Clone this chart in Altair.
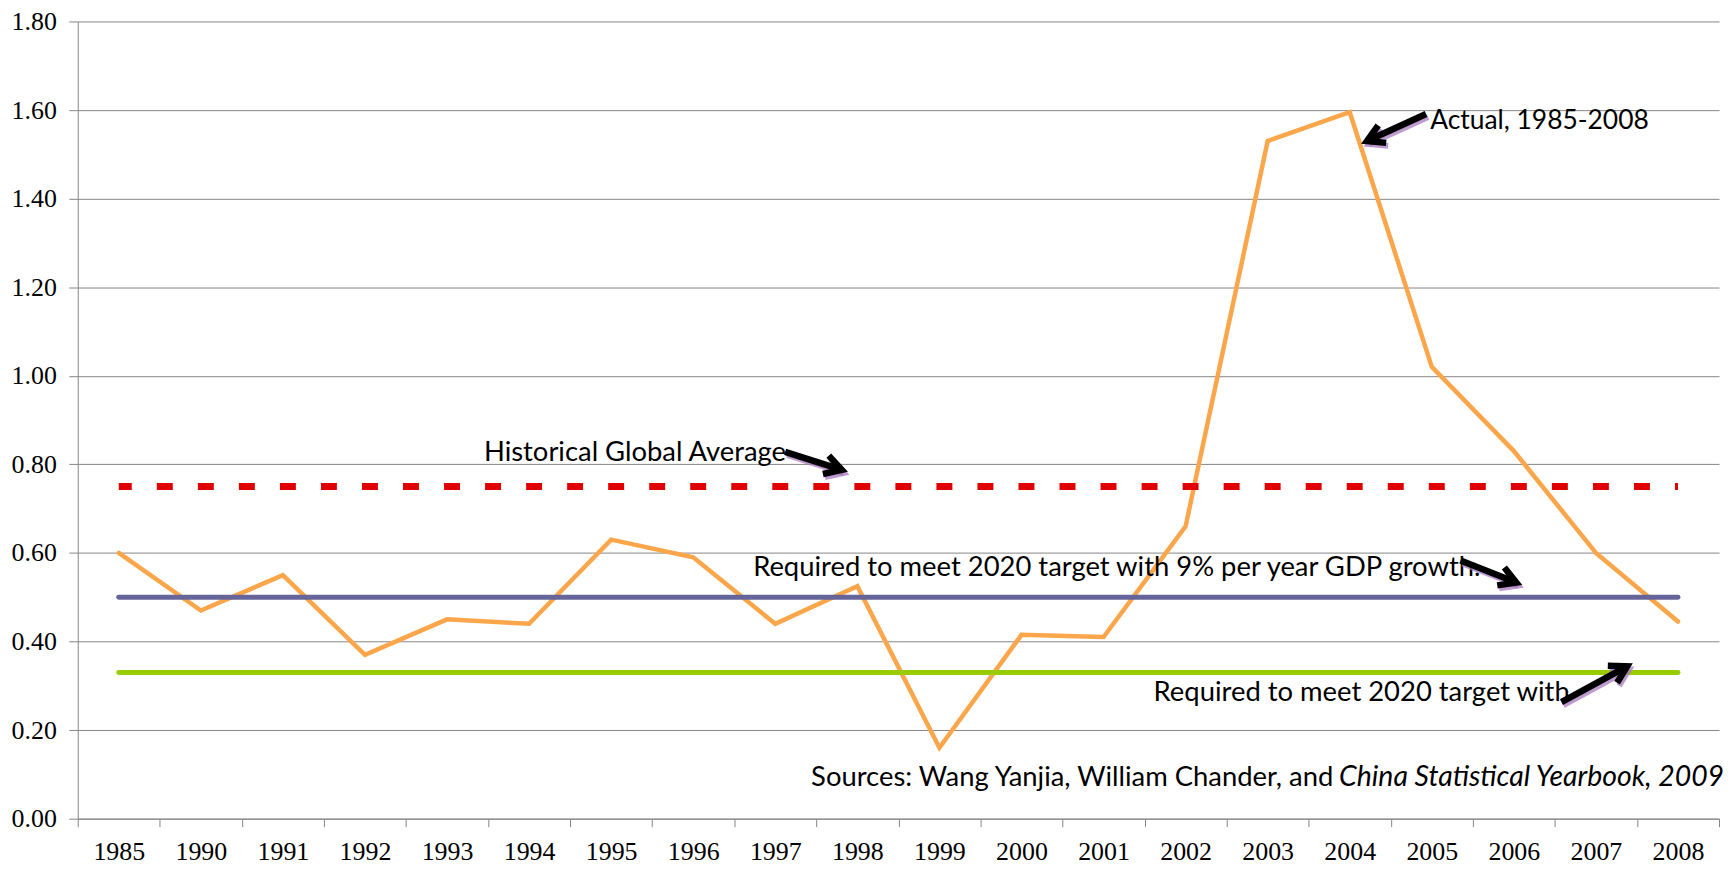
import math
import json
import altair as alt
import pandas as pd

# ---------------- data ----------------
years = ["1985", "1990", "1991", "1992", "1993", "1994", "1995", "1996", "1997", "1998",
         "1999", "2000", "2001", "2002", "2003", "2004", "2005", "2006", "2007", "2008"]
actual = [0.60, 0.47, 0.55, 0.37, 0.45, 0.44, 0.63, 0.59, 0.44, 0.525,
          0.16, 0.415, 0.41, 0.66, 1.53, 1.595, 1.02, 0.83, 0.60, 0.445]
historical_global_average = 0.75
required_9pct_gdp = 0.50
required_other = 0.33
y_ticks = [0.0, 0.2, 0.4, 0.6, 0.8, 1.0, 1.2, 1.4, 1.6, 1.8]

# ---------------- layout ----------------
W, H = 1647, 800
N = len(years)
YMAX = 1.8
BAND = W / N
PX_PER_VAL = H / YMAX
GRID = "#868686"
LABEL_FONT = "Liberation Serif"
ANNO_FONT = "Lato"

series = pd.DataFrame({
    "idx": list(range(N)),
    "year": years,
    "actual": actual,
    "hist": [historical_global_average] * N,
    "req9": [required_9pct_gdp] * N,
    "req_other": [required_other] * N,
})

x_scale = alt.Scale(domain=[-0.5, N - 0.5], nice=False, zero=False)
y_scale = alt.Scale(domain=[0, YMAX], nice=False, zero=True)

label_expr = f"datum.value < {N - 1} ? {json.dumps(years)}[round(datum.value + 0.5)] : ''"
x_axis = alt.Axis(
    values=[i - 0.5 for i in range(N + 1)], labelExpr=label_expr, labelOffset=BAND / 2,
    labelFlush=False, labelOverlap=False, labelBound=False, grid=False,
    tickSize=8, tickColor=GRID, domainColor=GRID, tickWidth=1, domainWidth=1,
    labelFont=LABEL_FONT, labelFontSize=26, labelColor="black", labelPadding=12, title=None,
)
y_axis = alt.Axis(
    values=y_ticks, format=".2f", grid=True, gridColor=GRID, gridWidth=1, gridOpacity=1,
    domainColor=GRID, tickColor=GRID, tickSize=9, tickWidth=1, domainWidth=1,
    labelFont=LABEL_FONT, labelFontSize=26, labelColor="black", labelPadding=12.5,
    labelFlush=False, labelOverlap=False, title=None,
)


def X(f):
    return alt.X(f, type="quantitative", scale=x_scale, axis=x_axis)


def Y(f):
    return alt.Y(f, type="quantitative", scale=y_scale, axis=y_axis)


base = alt.Chart(series)
orange = base.mark_line(color="#FBA64B", strokeWidth=4.5, strokeJoin="miter", strokeCap="round").encode(
    x=X("idx"), y=Y("actual"))
purple = base.mark_line(color="#65659A", strokeWidth=5, strokeCap="round").encode(
    x=X("idx"), y=Y("req9"))
green = base.mark_line(color="#99CC00", strokeWidth=5, strokeCap="round").encode(
    x=X("idx"), y=Y("req_other"))
red = base.mark_line(color="#E00000", strokeWidth=7, strokeCap="butt",
                     strokeDash=[16, BAND / 2 - 16], strokeDashOffset=3).encode(
    x=X("idx"), y=Y("hist"))

# ---------------- annotations (placed in data coordinates) ----------------
texts = [
    dict(text="Actual, 1985-2008", x=15.98, y=1.557, size=26.5, align="left", style="normal"),
    dict(text="Historical Global Average", x=4.45, y=0.808, size=27.5, align="left", style="normal"),
    dict(text="Required to meet 2020 target with 9% per year GDP growth.", x=7.73, y=0.547,
         size=27.5, align="left", style="normal"),
    dict(text="Required to meet 2020 target with", x=12.61, y=0.2655, size=27.5, align="left",
         style="normal"),
    dict(text="Sources: Wang Yanjia, William Chander, and", x=14.80, y=0.074, size=27.5,
         align="right", style="normal"),
    dict(text="China Statistical Yearbook, 2009", x=14.87, y=0.074, size=28.5, align="left",
         style="italic"),
]
text_layers = []
for t in texts:
    text_layers.append(
        alt.Chart(pd.DataFrame([{"x": t["x"], "y": t["y"], "label": t["text"]}]))
        .mark_text(align=t["align"], baseline="alphabetic", font=ANNO_FONT, fontSize=t["size"],
                   fontStyle=t["style"], color="black")
        .encode(x=X("x"), y=Y("y"), text="label:N")
    )

arrows = [
    dict(x=15.93, y=1.591, x2=15.21, y2=1.530),   # Actual
    dict(x=8.12, y=0.828, x2=8.81, y2=0.7875),    # Historical global average
    dict(x=16.35, y=0.583, x2=17.03, y2=0.533),   # 9% GDP growth
    dict(x=17.58, y=0.263, x2=18.38, y2=0.344),   # other target
]
for a in arrows:
    dxp = (a["x2"] - a["x"]) * BAND
    dyp = -(a["y2"] - a["y"]) * PX_PER_VAL
    a["angle"] = math.degrees(math.atan2(dxp, -dyp)) % 360
arrow_df = pd.DataFrame(arrows)

CHEVRON = "M -0.5 0.866 L 0 0 L 0.5 0.866"
HEAD_SIZE = 1500
SX, SY = 2 / BAND, 3 / PX_PER_VAL
shadow_base = alt.Chart(arrow_df).transform_calculate(
    sx=f"datum.x + {SX}", sy=f"datum.y - {SY}", sx2=f"datum.x2 + {SX}", sy2=f"datum.y2 - {SY}")
SHADOW = "#A878C0"
shadow_shaft = shadow_base.mark_rule(color=SHADOW, strokeWidth=6, opacity=0.75).encode(
    x=X("sx"), y=Y("sy"), x2="sx2:Q", y2="sy2:Q")
shadow_head = shadow_base.mark_point(shape=CHEVRON, filled=False, strokeWidth=6, size=HEAD_SIZE,
                                     color=SHADOW, opacity=0.75, strokeJoin="miter").encode(
    x=X("sx2"), y=Y("sy2"), angle=alt.Angle("angle:Q", scale=None))

arrow_base = alt.Chart(arrow_df)
shaft = arrow_base.mark_rule(color="black", strokeWidth=6.5).encode(
    x=X("x"), y=Y("y"), x2="x2:Q", y2="y2:Q")
head = arrow_base.mark_point(shape=CHEVRON, filled=False, strokeWidth=6.5, size=HEAD_SIZE,
                             color="black", opacity=1, strokeJoin="miter").encode(
    x=X("x2"), y=Y("y2"), angle=alt.Angle("angle:Q", scale=None))

chart = alt.layer(
    orange, purple, green, red, *text_layers, shadow_shaft, shadow_head, shaft, head
).properties(
    width=W, height=H,
    padding={"left": 70, "top": 12, "right": 5, "bottom": 47},
    autosize=alt.AutoSizeParams(type="none"),
    background="white",
).configure_view(stroke=None)

chart.save("out.html", embed_options={"renderer": "svg", "actions": False})
